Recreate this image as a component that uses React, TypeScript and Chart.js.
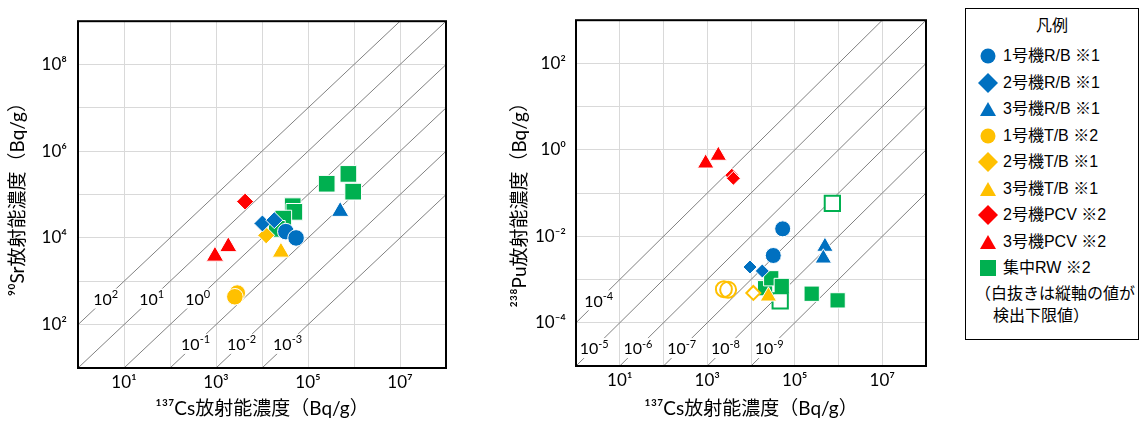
import React, { useEffect, useRef } from 'react';
import { Chart, registerables } from 'chart.js';
Chart.register(...registerables);

const FONT = 'Lato, "Noto Sans CJK JP", sans-serif';
const JP_FONT = '"Liberation Sans", "Noto Sans CJK JP", sans-serif';

const BLUE = '#0070C0';
const YELLOW = '#FFC000';
const RED = '#FF0000';
const GREEN = '#00B050';

// ---- series definitions ----
const seriesLabels = ['1号機R/B ※1', '2号機R/B ※1', '3号機R/B ※1', '1号機T/B ※2', '2号機T/B ※1', '3号機T/B ※1', '2号機PCV ※2', '3号機PCV ※2', '集中RW ※2'];
const seriesColors = [BLUE, BLUE, BLUE, YELLOW, YELLOW, YELLOW, RED, RED, GREEN];
const seriesShapes = ['circle', 'rectRot', 'triangle', 'circle', 'rectRot', 'triangle', 'rectRot', 'triangle', 'rect'];

// ---- left chart: 137Cs (x) vs 90Sr (y), Bq/g ----
const srCs_1RB = [33000, 55000];
const sr_1RB = [14000, 10000];
const srCs_2RB = [10200, 18500];
const sr_2RB = [21600, 25700];
const srCs_3RB = [500000];
const sr_3RB = [41000];
const srCs_1TB = [2900, 2570];
const sr_1TB = [535, 440];
const srCs_2TB = [12300];
const sr_2TB = [11500];
const srCs_3TB = [25800];
const sr_3TB = [4700];
const srCs_2PCV = [4300];
const sr_2PCV = [69000];
const srCs_3PCV = [950, 1850];
const sr_3PCV = [3800, 6300];
const srCs_RW = [255000, 755000, 960000, 46500, 50500, 29000, 21000];
const sr_RW = [178000, 300000, 117000, 54000, 40000, 28000, 16200];

// ---- right chart: 137Cs (x) vs 238Pu (y), Bq/g ----
const puCs_1RB = [53000, 32300];
const pu_1RB = [0.0149, 0.0036];
const puCs_2RB = [9500, 18100];
const pu_2RB = [0.00195, 0.00158];
const puCs_3RB = [490000, 450000];
const pu_3RB = [0.0058, 0.0031];
const puCs_1TB = [2400, 3000];
const pu_1TB = [0.0006, 0.00058];
const puHollow_1TB = [true, true];
const puCs_2TB = [11300];
const pu_2TB = [0.00049];
const puHollow_2TB = [true];
const puCs_3TB = [25000];
const pu_3TB = [0.00041];
const puCs_2PCV = [3630, 3960];
const pu_2PCV = [0.26, 0.22];
const puCs_3PCV = [920, 1790];
const pu_3PCV = [0.49, 0.74];
const puCs_RW = [21000, 29000, 50500, 46500, 244000, 955000, 724000];
const pu_RW = [0.00063, 0.00107, 0.00071, 0.00032, 0.00047, 0.00033, 0.058];
const puHollow_RW = [false, false, false, true, false, false, true];

// ---- axes ----
const csMin = 1;
const csMax = 1e8;
const csGridExps = [0, 1, 2, 3, 4, 5, 6, 7, 8];
const csLabelExps = [1, 3, 5, 7];
const srMin = 10;
const srMax = 1e9;
const srGridExps = [1, 2, 3, 4, 5, 6, 7, 8, 9];
const srLabelExps = [2, 4, 6, 8];
const puMin = 1e-5;
const puMax = 1e3;
const puGridExps = [-5, -4, -3, -2, -1, 0, 1, 2, 3];
const puLabelExps = [-4, -2, 0, 2];

// ---- ratio (diagonal) lines ----
const srRatioExps = [2, 1, 0, -1, -2, -3];
const srRatioLabelY = [400, 400, 400, 36, 36, 36];
const puRatioExps = [-4, -5, -6, -7, -8, -9];
const puRatioLabelY = [3.3e-4, 2.6e-5, 2.6e-5, 2.6e-5, 2.6e-5, 2.6e-5];

const SUP: Record<string, string> = { '0': '⁰', '1': '¹', '2': '²', '3': '³', '4': '⁴', '5': '⁵', '6': '⁶', '7': '⁷', '8': '⁸', '9': '⁹', '-': '⁻' };
const sup = (n: number) => String(n).split('').map((c) => SUP[c]).join('');

function powCallback(labelExps: number[]) {
  return (value: any) => {
    const e = Math.round(Math.log10(Number(value)));
    return labelExps.includes(e) ? '10' + sup(e) : '';
  };
}

function drawPow(ctx: CanvasRenderingContext2D, cx: number, cy: number, e: number) {
  const base = '10';
  const ex = String(e);
  ctx.font = `16px ${FONT}`;
  const bw = ctx.measureText(base).width;
  ctx.font = `11px ${FONT}`;
  const ew = ctx.measureText(ex).width;
  const w = bw + ew;
  const x0 = cx - w / 2;
  ctx.fillStyle = '#fff';
  ctx.fillRect(x0 - 2, cy - 10, w + 4, 20);
  ctx.fillStyle = '#000';
  ctx.textBaseline = 'middle';
  ctx.textAlign = 'left';
  ctx.font = `16px ${FONT}`;
  ctx.fillText(base, x0, cy + 1);
  ctx.font = `11px ${FONT}`;
  ctx.fillText(ex, x0 + bw, cy - 4);
}

function ratioLabelPlugin(exps: number[], labelYs: number[]) {
  return {
    id: 'ratioLabels',
    afterDatasetsDraw(chart: any) {
      const { ctx, scales } = chart;
      ctx.save();
      exps.forEach((e, i) => {
        const yv = labelYs[i];
        const xv = yv / Math.pow(10, e);
        drawPow(ctx, scales.x.getPixelForValue(xv), scales.y.getPixelForValue(yv), e);
      });
      ctx.restore();
    },
  };
}

const framePlugin = {
  id: 'frame',
  afterDraw(chart: any) {
    const { ctx, chartArea } = chart;
    ctx.save();
    ctx.strokeStyle = '#000';
    ctx.lineWidth = 2;
    ctx.strokeRect(chartArea.left, chartArea.top, chartArea.right - chartArea.left, chartArea.bottom - chartArea.top);
    ctx.restore();
  },
};

type Series = { x: number[]; y: number[]; hollow?: boolean[] };

function markerDatasets(series: Series[], radii: Record<string, number>) {
  return series.map((s, i) => {
    const color = seriesColors[i];
    const shape = seriesShapes[i];
    const hollow = s.hollow || s.x.map(() => false);
    return {
      label: seriesLabels[i],
      data: s.x.map((xv, j) => ({ x: xv, y: s.y[j] })),
      pointStyle: shape,
      pointRadius: radii[shape],
      pointHoverRadius: radii[shape],
      pointBackgroundColor: hollow.map((h) => (h ? (shape === 'circle' ? 'rgba(255,255,255,0)' : '#ffffff') : color)),
      pointBorderColor: hollow.map((h) => (h ? color : '#ffffff')),
      pointBorderWidth: hollow.map((h) => (h ? 2 : 1)),
      showLine: false,
      order: 0,
    };
  });
}

function ratioDatasets(exps: number[]) {
  return exps.map((e) => ({
    label: 'ratio ' + e,
    data: [csMin, csMax].map((xv) => ({ x: xv, y: xv * Math.pow(10, e) })),
    showLine: true,
    borderColor: '#808080',
    borderWidth: 1,
    pointRadius: 0,
    order: 10,
  }));
}

type Cfg = {
  series: Series[];
  radii: Record<string, number>;
  ratioExps: number[];
  ratioLabelY: number[];
  yMin: number;
  yMax: number;
  yGridExps: number[];
  yLabelExps: number[];
  yTitle: string;
  yAxisWidth: number;
  yTitlePad: number;
  yTickPad: number;
  padTop: number;
  padRight: number;
  xAxisHeight: number;
};

function makeConfig(c: Cfg): any {
  return {
    type: 'scatter',
    data: {
      datasets: [...markerDatasets(c.series, c.radii), ...ratioDatasets(c.ratioExps)],
    },
    options: {
      animation: false,
      responsive: false,
      devicePixelRatio: 1,
      events: [],
      layout: { padding: { left: 0, right: c.padRight, top: c.padTop, bottom: 0 } },
      plugins: { legend: { display: false }, tooltip: { enabled: false } },
      scales: {
        x: {
          type: 'logarithmic',
          min: csMin,
          max: csMax,
          afterBuildTicks: (s: any) => {
            s.ticks = csGridExps.map((e) => ({ value: Math.pow(10, e) }));
          },
          afterFit: (s: any) => {
            s.height = c.xAxisHeight;
          },
          ticks: {
            callback: powCallback(csLabelExps),
            autoSkip: false,
            maxRotation: 0,
            padding: 4,
            color: '#000',
            font: { family: FONT, size: 17 },
          },
          grid: { color: '#d9d9d9', lineWidth: 1, drawTicks: false },
          border: { display: false },
          title: {
            display: true,
            text: '¹³⁷Cs放射能濃度（Bq/g）',
            color: '#000',
            font: { family: FONT, size: 19 },
            padding: { top: 0, bottom: 1 },
          },
        },
        y: {
          type: 'logarithmic',
          min: c.yMin,
          max: c.yMax,
          afterBuildTicks: (s: any) => {
            s.ticks = c.yGridExps.map((e) => ({ value: Math.pow(10, e) }));
          },
          afterFit: (s: any) => {
            s.width = c.yAxisWidth;
          },
          ticks: {
            callback: powCallback(c.yLabelExps),
            autoSkip: false,
            padding: c.yTickPad,
            color: '#000',
            font: { family: FONT, size: 17 },
          },
          grid: { color: '#d9d9d9', lineWidth: 1, drawTicks: false },
          border: { display: false },
          title: {
            display: true,
            text: c.yTitle,
            color: '#000',
            font: { family: FONT, size: 19 },
            padding: { top: c.yTitlePad, bottom: 0 },
          },
        },
      },
    },
    plugins: [ratioLabelPlugin(c.ratioExps, c.ratioLabelY), framePlugin],
  };
}

const leftSeries: Series[] = [
  { x: srCs_1RB, y: sr_1RB },
  { x: srCs_2RB, y: sr_2RB },
  { x: srCs_3RB, y: sr_3RB },
  { x: srCs_1TB, y: sr_1TB },
  { x: srCs_2TB, y: sr_2TB },
  { x: srCs_3TB, y: sr_3TB },
  { x: srCs_2PCV, y: sr_2PCV },
  { x: srCs_3PCV, y: sr_3PCV },
  { x: srCs_RW, y: sr_RW },
];

const rightSeries: Series[] = [
  { x: puCs_1RB, y: pu_1RB },
  { x: puCs_2RB, y: pu_2RB },
  { x: puCs_3RB, y: pu_3RB },
  { x: puCs_1TB, y: pu_1TB, hollow: puHollow_1TB },
  { x: puCs_2TB, y: pu_2TB, hollow: puHollow_2TB },
  { x: puCs_3TB, y: pu_3TB },
  { x: puCs_2PCV, y: pu_2PCV },
  { x: puCs_3PCV, y: pu_3PCV },
  { x: puCs_RW, y: pu_RW, hollow: puHollow_RW },
];

function ChartCanvas({ config, width, height, left }: { config: any; width: number; height: number; left: number }) {
  const ref = useRef<HTMLCanvasElement | null>(null);
  useEffect(() => {
    if (!ref.current) return;
    const chart = new Chart(ref.current, config);
    return () => chart.destroy();
  }, [config]);
  return (
    <canvas
      ref={ref}
      width={width}
      height={height}
      style={{ position: 'absolute', left, top: 0, width, height, display: 'block' }}
    />
  );
}

function LegendMarker({ shape, color }: { shape: string; color: string }) {
  let el: any = null;
  if (shape === 'circle') el = <circle cx={11} cy={11} r={7.5} fill={color} />;
  else if (shape === 'rectRot') el = <polygon points="11,1 21,11 11,21 1,11" fill={color} />;
  else if (shape === 'triangle') el = <polygon points="11,4 19,18 3,18" fill={color} />;
  else el = <rect x={3} y={3} width={16} height={16} fill={color} />;
  return (
    <svg width={22} height={22} style={{ position: 'absolute', left: 11, top: -11 }}>
      {el}
    </svg>
  );
}

function Legend() {
  const top0 = 47;
  const step = 26.5;
  return (
    <div
      style={{
        position: 'absolute',
        left: 965,
        top: 8,
        width: 174,
        height: 332,
        border: '1.5px solid #000',
        boxSizing: 'border-box',
        fontFamily: JP_FONT,
        fontSize: 16,
        color: '#000',
        background: '#fff',
      }}
    >
      <div style={{ position: 'absolute', left: 0, right: 0, top: 6, textAlign: 'center', lineHeight: '22px' }}>凡例</div>
      {seriesLabels.map((lab, i) => (
        <div key={lab} style={{ position: 'absolute', left: 0, top: top0 + i * step, height: 0 }}>
          <LegendMarker shape={seriesShapes[i]} color={seriesColors[i]} />
          <div style={{ position: 'absolute', left: 37, top: -11, lineHeight: '22px', whiteSpace: 'nowrap' }}>{lab}</div>
        </div>
      ))}
      <div style={{ position: 'absolute', left: 9, top: 274, lineHeight: '22px', whiteSpace: 'nowrap' }}>（白抜きは縦軸の値が</div>
      <div style={{ position: 'absolute', left: 27, top: 296, lineHeight: '22px', whiteSpace: 'nowrap' }}>検出下限値）</div>
    </div>
  );
}

const leftConfig = makeConfig({
  series: leftSeries,
  radii: { circle: 8.3, rectRot: 8.5, triangle: 10, rect: 11.8 },
  ratioExps: srRatioExps,
  ratioLabelY: srRatioLabelY,
  yMin: srMin,
  yMax: srMax,
  yGridExps: srGridExps,
  yLabelExps: srLabelExps,
  yTitle: '⁹⁰Sr放射能濃度（Bq/g）',
  yAxisWidth: 78,
  yTitlePad: 6,
  yTickPad: 11,
  padTop: 11,
  padRight: 24,
  xAxisHeight: 53,
});

const rightConfig = makeConfig({
  series: rightSeries,
  radii: { circle: 8, rectRot: 7, triangle: 9.5, rect: 10.8 },
  ratioExps: puRatioExps,
  ratioLabelY: puRatioLabelY,
  yMin: puMin,
  yMax: puMax,
  yGridExps: puGridExps,
  yLabelExps: puLabelExps,
  yTitle: '²³⁸Pu放射能濃度（Bq/g）　 ',
  yAxisWidth: 76,
  yTitlePad: 8,
  yTickPad: 10,
  padTop: 8,
  padRight: 24,
  xAxisHeight: 55,
});

export default function App() {
  return (
    <div style={{ position: 'absolute', left: 0, top: 0, width: 1140, height: 421, background: '#fff', overflow: 'hidden' }}>
      <ChartCanvas config={leftConfig} width={470} height={421} left={0} />
      <ChartCanvas config={rightConfig} width={450} height={421} left={500} />
      <Legend />
    </div>
  );
}
